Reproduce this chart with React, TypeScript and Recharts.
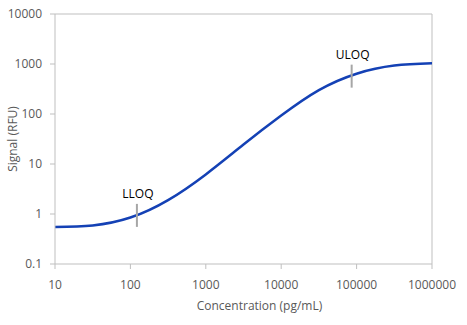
import { ComposedChart, Line, Scatter, XAxis, YAxis, ReferenceLine, Label } from "recharts";

// standard curve (concentration pg/mL, signal RFU)
const concentration = [10, 31.6, 100, 316, 1000, 3162, 10000, 31623, 100000, 316228, 1000000];
const signal = [0.55, 0.59, 0.85, 1.9, 6.2, 24.5, 93, 300, 640, 930, 1030];

const limitNames = ["LLOQ", "ULOQ"];
const limitConc = [122, 86000];
const limitSignal = [0.96, 585];

const xTicks = [10, 100, 1000, 10000, 100000, 1000000];
const yTicks = [0.1, 1, 10, 100, 1000, 10000];

const curve = concentration.map((c, i) => ({ conc: c, signal: signal[i] }));
const limits = limitNames.map((n, i) => ({ conc: limitConc[i], signal: limitSignal[i], name: n }));

const axisGray = "#bfbfbf";
const textGray = "#595959";
const font = "'Open Sans', sans-serif";

function LimitMark(props: any) {
  const { cx, cy, payload } = props;
  return (
    <g>
      <line x1={cx} x2={cx} y1={cy - 11} y2={cy + 12} stroke="#a6a6a6" strokeWidth={2} />
      <text x={cx + 1} y={cy - 17} textAnchor="middle" fontSize={12} fontFamily={font} fill="#000">
        {payload.name}
      </text>
    </g>
  );
}

export default function App() {
  return (
    <div style={{ position: "absolute", left: 0, top: 0, background: "#fff" }}>
      <ComposedChart width={467} height={325} margin={{ top: 14, right: 35, bottom: 0, left: 0 }}>
        <XAxis
          dataKey="conc"
          type="number"
          scale="log"
          domain={[10, 1000000]}
          ticks={xTicks}
          allowDataOverflow
          height={61}
          stroke={axisGray}
          tickSize={5}
          tickMargin={11}
          tick={{ fill: textGray, fontSize: 12, fontFamily: font }}
          tickFormatter={(v) => String(v)}
        >
          <Label
            value="Concentration (pg/mL)"
            position="insideBottom"
            offset={15}
            dx={16}
            style={{ fill: textGray, fontSize: 12, fontFamily: font }}
          />
        </XAxis>
        <YAxis
          dataKey="signal"
          type="number"
          scale="log"
          domain={[0.1, 10000]}
          ticks={yTicks}
          allowDataOverflow
          width={55}
          stroke={axisGray}
          tickSize={5}
          tickMargin={8}
          tick={{ fill: textGray, fontSize: 12, fontFamily: font }}
          tickFormatter={(v) => String(v)}
        >
          <Label
            value="Signal (RFU)"
            angle={-90}
            position="insideLeft"
            offset={13}
            style={{ fill: textGray, fontSize: 12, fontFamily: font, textAnchor: "middle" }}
          />
        </YAxis>
        <ReferenceLine y={10000} stroke={axisGray} />
        <ReferenceLine x={1000000} stroke={axisGray} />
        <Line
          data={curve}
          dataKey="signal"
          type="natural"
          stroke="#1441b5"
          strokeWidth={2.5}
          dot={false}
          isAnimationActive={false}
        />
        <Scatter data={limits} dataKey="signal" shape={LimitMark} isAnimationActive={false} />
      </ComposedChart>
    </div>
  );
}
